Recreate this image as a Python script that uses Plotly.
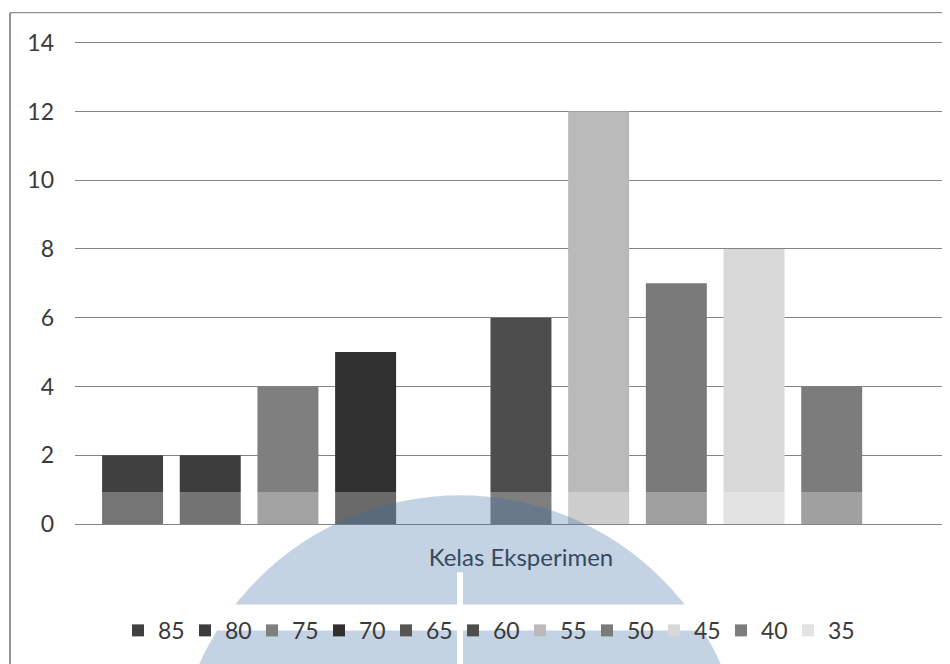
import plotly.graph_objects as go

category = ["Kelas Eksperimen"]
series_names = ["85", "80", "75", "70", "65", "60", "55", "50", "45", "40", "35"]
series_values = [2, 2, 4, 5, 0, 6, 12, 7, 8, 4, 0]
series_colors = ["#404040", "#3d3d3d", "#7f7f7f", "#303030", "#555555", "#4d4d4d",
                 "#bababa", "#7a7a7a", "#d8d8d8", "#7c7c7c", "#e3e3e3"]
y_ticks = [0, 2, 4, 6, 8, 10, 12, 14]

FONT = "Lato, 'Open Sans', sans-serif"

fig = go.Figure()
for name, val, col in zip(series_names, series_values, series_colors):
    fig.add_trace(go.Bar(x=category, y=[val], name=name, marker=dict(color=col, line=dict(width=0))))

# page body has an 8px default margin; compensate so the figure lands where the reference is
OFF = 8
W, H = 950 - OFF, 664 - OFF
Y0_PX, Y14_PX = 523.7, 43.0          # target pixel rows of 0 and 14 (page coords)
YMAX = 14.05
ppu = (Y0_PX - Y14_PX) / 14.0
top_px = Y14_PX - (YMAX - 14) * ppu
L = 75 - OFF
R = 0
T = top_px - OFF
B = (664 - Y0_PX)
pw = W - L - R
ph = H - T - B

def px(x):
    return (x - 75) / pw

def py(y):
    return (Y0_PX - y) / ph

shapes = [
    # light scan band at bottom of bars
    dict(type="rect", xref="paper", yref="y", x0=0, x1=1, y0=0, y1=0.93,
         fillcolor="rgba(255,255,255,0.28)", line=dict(width=0), layer="above"),
    # watermark circle
    dict(type="circle", xref="paper", yref="paper", x0=px(174), x1=px(746), y0=py(1067), y1=py(495),
         fillcolor="rgba(58,110,165,0.30)", line=dict(width=0), layer="above"),
    dict(type="rect", xref="paper", yref="paper", x0=px(150), x1=px(800), y0=py(630), y1=py(604),
         fillcolor="white", line=dict(width=0), layer="above"),
    dict(type="rect", xref="paper", yref="paper", x0=px(457), x1=px(463), y0=py(700), y1=py(572),
         fillcolor="white", line=dict(width=0), layer="above"),
    # chart border
    dict(type="line", xref="paper", yref="paper", x0=px(10), x1=px(10), y0=py(700), y1=py(13),
         line=dict(color="#707070", width=1.5), layer="above"),
    dict(type="line", xref="paper", yref="paper", x0=px(10), x1=px(1000), y0=py(13), y1=py(13),
         line=dict(color="#909090", width=1.2), layer="above"),
]

fig.update_layout(
    width=W, height=H,
    margin=dict(l=L, r=R, t=T, b=B, pad=0),
    paper_bgcolor="white", plot_bgcolor="white",
    barmode="group", bargap=0.042, bargroupgap=0.215,
    font=dict(family=FONT, color="#3a3a3a", size=23),
    xaxis=dict(type="category", range=[-0.5, 0.481], showgrid=False, showline=False,
               ticks="", ticklabelstandoff=17, tickfont=dict(size=24, color="#333a44"),
               zeroline=False),
    yaxis=dict(range=[0, YMAX], tickvals=y_ticks, showgrid=True, gridcolor="#858585", gridwidth=1,
               zeroline=True, zerolinecolor="#858585", zerolinewidth=1, showline=False,
               ticks="", ticklabelstandoff=20, tickfont=dict(size=23, color="#3a3a3a")),
    legend=dict(orientation="h", x=px(118), xanchor="left", y=py(630), yanchor="middle",
                font=dict(size=23, color="#3a3a3a"), traceorder="normal",
                entrywidth=22, itemwidth=30, bgcolor="rgba(0,0,0,0)"),
    shapes=shapes,
)

fig.write_html("out.html")
